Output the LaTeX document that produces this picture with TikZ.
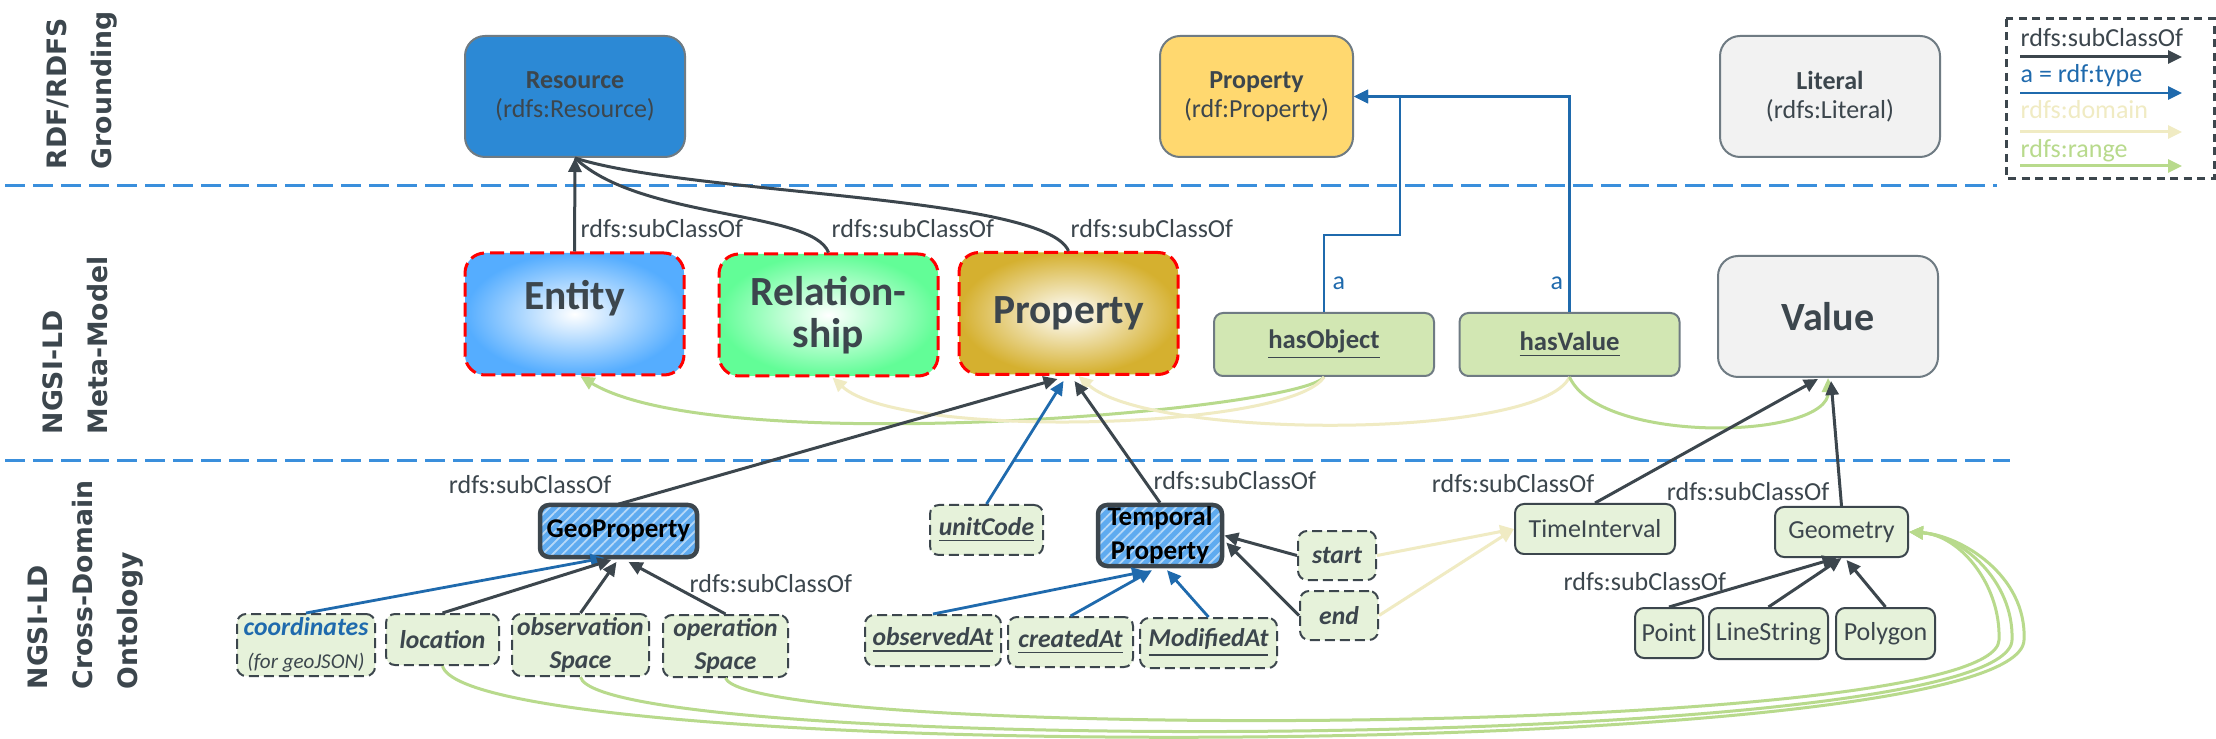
\documentclass[tikz,border=0pt]{standalone}
\usepackage{fontspec}
\setmainfont{Carlito}
\newfontfamily\rowfont{DejaVu Sans}
\usetikzlibrary{arrows.meta, patterns.meta, calc, positioning}

\definecolor{inkdark}{HTML}{3C464D}
\definecolor{typeblue}{HTML}{1F6AAD}
\definecolor{domyellow}{HTML}{F0EBC3}
\definecolor{rnggreen}{HTML}{B8DA8C}
\definecolor{sepblue}{HTML}{3A8FDC}
\definecolor{boxgray}{HTML}{6F7B83}
\definecolor{resblue}{HTML}{2C89D5}
\definecolor{propyellow}{HTML}{FFD86F}
\definecolor{litgray}{HTML}{F2F2F2}
\definecolor{relgreen}{HTML}{D2E7B3}
\definecolor{termgreen}{HTML}{E6F2DA}
\definecolor{hatchblue}{HTML}{5FABF0}
\definecolor{entblue}{HTML}{55ADFF}
\definecolor{shipgreen}{HTML}{62FD97}
\definecolor{propgold}{HTML}{D5B02F}

\newcommand{\lblsize}{\fontsize{7.4}{8.3}\selectfont}
\newcommand{\bigsize}{\fontsize{11.8}{11.8}\selectfont\bfseries}

\tikzset{
	subline/.style={draw=inkdark, line width=0.3mm},
	subcls/.style={subline, -{Triangle[length=1.4mm, width=1.3mm]}},
	rdftype/.style={draw=typeblue, line width=0.28mm, -{Triangle[length=1.4mm, width=1.3mm]}},
	dom/.style={draw=domyellow, line width=0.3mm, -{Triangle[length=1.4mm, width=1.3mm]}},
	rng/.style={draw=rnggreen, line width=0.3mm, -{Triangle[length=1.4mm, width=1.3mm]}},
	sepline/.style={draw=sepblue, line width=0.3mm, dash pattern=on 2mm off 0.8mm},
	legbox/.style={draw=inkdark, line width=0.3mm, dash pattern=on 0.8mm off 0.55mm},
	rdfbox/.style={draw=boxgray, line width=0.2mm, rounded corners=2mm, align=center, inner sep=0, text=inkdark, font=\lblsize},
	metabox/.style={draw=red, line width=0.3mm, dash pattern=on 1.4mm off 0.6mm, rounded corners=2mm, align=center, inner sep=0, text=inkdark, font=\bigsize, inner color=white, minimum width=21.9mm, minimum height=12.2mm},
	relbox/.style={draw=boxgray, line width=0.2mm, rounded corners=0.9mm, fill=relgreen, inner sep=0, text=inkdark, font=\fontsize{7.6}{8}\selectfont\bfseries, minimum width=22mm, minimum height=6.3mm},
	hatchbox/.style={draw=inkdark, line width=0.45mm, rounded corners=0.9mm, preaction={fill=hatchblue}, pattern={Lines[angle=45, distance=2pt, line width=0.5pt]}, pattern color=white!55!hatchblue, align=center, inner sep=0, text=black, font=\fontsize{7.7}{9.6}\selectfont\bfseries},
	termbox/.style={draw=inkdark, line width=0.2mm, dash pattern=on 1mm off 0.5mm, rounded corners=0.9mm, fill=termgreen, align=center, inner sep=0, text=inkdark, font=\fontsize{7.3}{9.4}\selectfont\bfseries\itshape},
	geobox/.style={draw=inkdark, line width=0.2mm, rounded corners=0.9mm, fill=termgreen, inner sep=0, text=inkdark, font=\lblsize},
	lbl/.style={inner sep=0, text=inkdark, font=\lblsize},
	alab/.style={inner sep=0, text=typeblue, font=\lblsize},
	rowlbl/.style={rotate=90, anchor=west, align=left, inner sep=0, text=inkdark, font=\rowfont\bfseries\fontsize{7.6}{12.8}\selectfont}
}

\begin{document}
\begin{tikzpicture}[x=0.1mm, y=-0.1mm]
	\fill[white] (0,0) rectangle (2216,739);
	\useasboundingbox (0,0) rectangle (2216,739);

	% layer titles
	\node[rowlbl] (grp1) at (82,170) {RDF/RDFS\\Grounding};
	\node[rowlbl] (grp2) at (75,435) {NGSI-LD\\Meta-Model};
	\node[rowlbl] (grp3) at (85,690) {NGSI-LD\\Cross-Domain\\Ontology};
	\draw[sepline] (5,186) -- (1997,186);
	\draw[sepline] (5,461) -- (2010,461);

	% RDF/RDFS grounding
	\node[rdfbox, fill=resblue, minimum width=22mm, minimum height=12.1mm] (res) at (575,96.5) {\textbf{Resource}\\(rdfs:Resource)};
	\node[rdfbox, fill=propyellow, minimum width=19.3mm, minimum height=12.1mm] (rdfprop) at (1256.5,96.5) {\textbf{Property}\\(rdf:Property)};
	\node[rdfbox, fill=litgray, minimum width=22mm, minimum height=12.1mm] (lit) at (1830,96.5) {\textbf{Literal}\\(rdfs:Literal)};

	% meta-model
	\node[metabox, outer color=entblue, text height=2.7mm, text depth=3.5mm] (entity) at (574.5,314) {Entity};
	\node[metabox, outer color=shipgreen] (rel) at (828.5,315) {Relation-\\ship};
	\node[metabox, outer color=propgold] (prop) at (1068.5,313.5) {Property};
	\node[relbox] (hasobj) at (1324,344.5) {\underline{hasObject}};
	\node[relbox] (hasval) at (1569.5,344.5) {\underline{hasValue}};
	\node[rdfbox, fill=litgray, font=\fontsize{11.4}{12}\selectfont\bfseries, minimum width=22mm, minimum height=12.1mm] (value) at (1828,316.5) {Value};

	% cross-domain ontology
	\node[hatchbox, minimum width=15.7mm, minimum height=5.2mm] (geoprop) at (618.5,531) {GeoProperty};
	\node[termbox, minimum width=11.3mm, minimum height=5mm] (unitcode) at (986.5,530) {\underline{unitCode}};
	\node[hatchbox, minimum width=12.4mm, minimum height=6.1mm] (tempprop) at (1160,535.5) {Temporal\\Property};
	\node[termbox, minimum width=7.8mm, minimum height=4.9mm] (tstart) at (1337,555.5) {start};
	\node[termbox, minimum width=7.8mm, minimum height=4.9mm] (tend) at (1339,615.5) {end};
	\node[geobox, minimum width=16mm, minimum height=5mm] (timeint) at (1595,529) {TimeInterval};
	\node[geobox, minimum width=13.3mm, minimum height=5mm] (geometry) at (1841.5,532) {Geometry};
	\node[termbox, minimum width=13.8mm, minimum height=6.2mm] (coords) at (306,645) {\textcolor{typeblue}{coordinates}\\{\fontsize{6}{7}\selectfont\mdseries (for geoJSON)}};
	\node[termbox, minimum width=11.3mm, minimum height=5.1mm] (location) at (442.5,639.5) {location};
	\node[termbox, minimum width=13.7mm, minimum height=6.2mm] (obsspace) at (580.5,645) {observation\\Space};
	\node[termbox, minimum width=12.5mm, minimum height=6.2mm] (opspace) at (725.5,646) {operation\\Space};
	\node[termbox, minimum width=13.6mm, minimum height=5.1mm] (observedat) at (933,640.5) {\underline{observedAt}};
	\node[termbox, minimum width=12.5mm, minimum height=5mm] (createdat) at (1070.5,642) {\underline{createdAt}};
	\node[termbox, minimum width=13.7mm, minimum height=5mm] (modifiedat) at (1208.5,643) {\underline{ModifiedAt}};
	\node[geobox, minimum width=6.8mm, minimum height=5mm] (point) at (1669,633) {Point};
	\node[geobox, minimum width=11.9mm, minimum height=5.1mm] (linestr) at (1768.5,633.5) {LineString};
	\node[geobox, minimum width=9.9mm, minimum height=5.1mm] (polygon) at (1885.5,633.5) {Polygon};

	% domain and range
	\draw[rng] (hasobj.south) .. controls (1300,410) and (720,460) .. ($(entity.south)+(6,0)$);
	\draw[dom] (hasobj.south) .. controls (1290,430) and (900,440) .. ($(rel.south)+(4,0)$);
	\draw[dom] (hasval.south) .. controls (1540,440) and (1150,440) .. ($(prop.south)+(10,0)$);
	\draw[rng] (hasval.south) .. controls (1600,445) and (1830,440) .. (value.south);
	\draw[dom] (tstart.east) -- (timeint.west);
	\draw[dom] (tend.east) -- (timeint.west);
	\draw[rng] (location.south) .. controls (470,765) and (2020,765) .. (2024,640) .. controls (2027,575) and (1960,535) .. (geometry.east);
	\draw[rng] (obsspace.south) .. controls (600,755) and (2008,755) .. (2012,640) .. controls (2014,580) and (1960,535) .. (geometry.east);
	\draw[rng] (opspace.south) .. controls (750,740) and (1995,740) .. (1999,640) .. controls (2001,585) and (1960,535) .. (geometry.east);

	% rdfs:subClassOf
	\draw[subcls] (entity.north) -- (res.south);
	\draw[subline] (rel.north) .. controls (812,210) and (640,220) .. (res.south);
	\draw[subline] (prop.north) .. controls (1045,195) and (690,195) .. (res.south);
	\node[lbl, anchor=base west] at (580,238) {rdfs:subClassOf};
	\node[lbl, anchor=base west] at (831,238) {rdfs:subClassOf};
	\node[lbl, anchor=base west] at (1070,238) {rdfs:subClassOf};

	\draw[subcls] (geoprop.north) -- ($(prop.south)+(-11,3)$);
	\draw[rdftype] (unitcode.north) -- ($(prop.south)+(-5,5)$);
	\draw[subcls] (tempprop.north) -- ($(prop.south)+(6,5)$);
	\node[lbl, anchor=base east] at (612,494) {rdfs:subClassOf};
	\node[lbl, anchor=base west] at (1153,490) {rdfs:subClassOf};

	\draw[rdftype] (coords.north) -- ($(geoprop.south)+(-14,0)$);
	\draw[subcls] (location.north) -- ($(geoprop.south)+(-7,2)$);
	\draw[subcls] (obsspace.north) -- ($(geoprop.south)+(-2,4)$);
	\draw[subcls] (opspace.north) -- ($(geoprop.south)+(10,4)$);
	\node[lbl, anchor=base west] at (689,592) {rdfs:subClassOf};

	\draw[rdftype] (observedat.north) -- ($(tempprop.south)+(-14,3)$);
	\draw[rdftype] (createdat.north) -- ($(tempprop.south)+(-8,2)$);
	\draw[rdftype] (modifiedat.north) -- ($(tempprop.south)+(7,2)$);
	\draw[subcls] (tstart.west) -- (tempprop.east);
	\draw[subcls] (tend.west) -- ($(tempprop.east)+(2,7)$);

	\draw[subcls] (timeint.north) -- ($(value.south)+(-10,1)$);
	\draw[subcls] (geometry.north) -- ($(value.south)+(3,3)$);
	\node[lbl, anchor=base east] at (1595,493) {rdfs:subClassOf};
	\node[lbl, anchor=base east] at (1830,500) {rdfs:subClassOf};
	\draw[subcls] (point.north) -- ($(geometry.south)+(-5,0)$);
	\draw[subcls] (linestr.north) -- (geometry.south);
	\draw[subcls] (polygon.north) -- ($(geometry.south)+(5,2)$);
	\node[lbl, anchor=base west] at (1563,590) {rdfs:subClassOf};

	% rdf:type
	\coordinate (tjoin) at (1400,235);
	\draw[rdftype] (hasobj.north) |- (tjoin) |- (rdfprop.east);
	\draw[rdftype] (hasval.north) |- (rdfprop.east);
	\node[alab, anchor=base west] at (1332,290) {a};
	\node[alab, anchor=base west] at (1550,290) {a};

	% legend
	\draw[legbox] (2006,19) rectangle (2214,179);
	\node[lbl, anchor=base west] (lg1) at (2020,47) {rdfs:subClassOf};
	\node[lbl, anchor=base west, text=typeblue] (lg2) at (2020,83) {a = rdf:type};
	\node[lbl, anchor=base west, text=domyellow] (lg3) at (2020,119) {rdfs:domain};
	\node[lbl, anchor=base west, text=rnggreen] (lg4) at (2020,158) {rdfs:range};
	\draw[subcls] ([yshift=-1mm]lg1.base west) -- ++(162,0);
	\draw[rdftype] ([yshift=-1mm]lg2.base west) -- ++(162,0);
	\draw[dom] ([yshift=-1.3mm]lg3.base west) -- ++(162,0);
	\draw[rng] ([yshift=-0.8mm]lg4.base west) -- ++(162,0);
\end{tikzpicture}
\end{document}
